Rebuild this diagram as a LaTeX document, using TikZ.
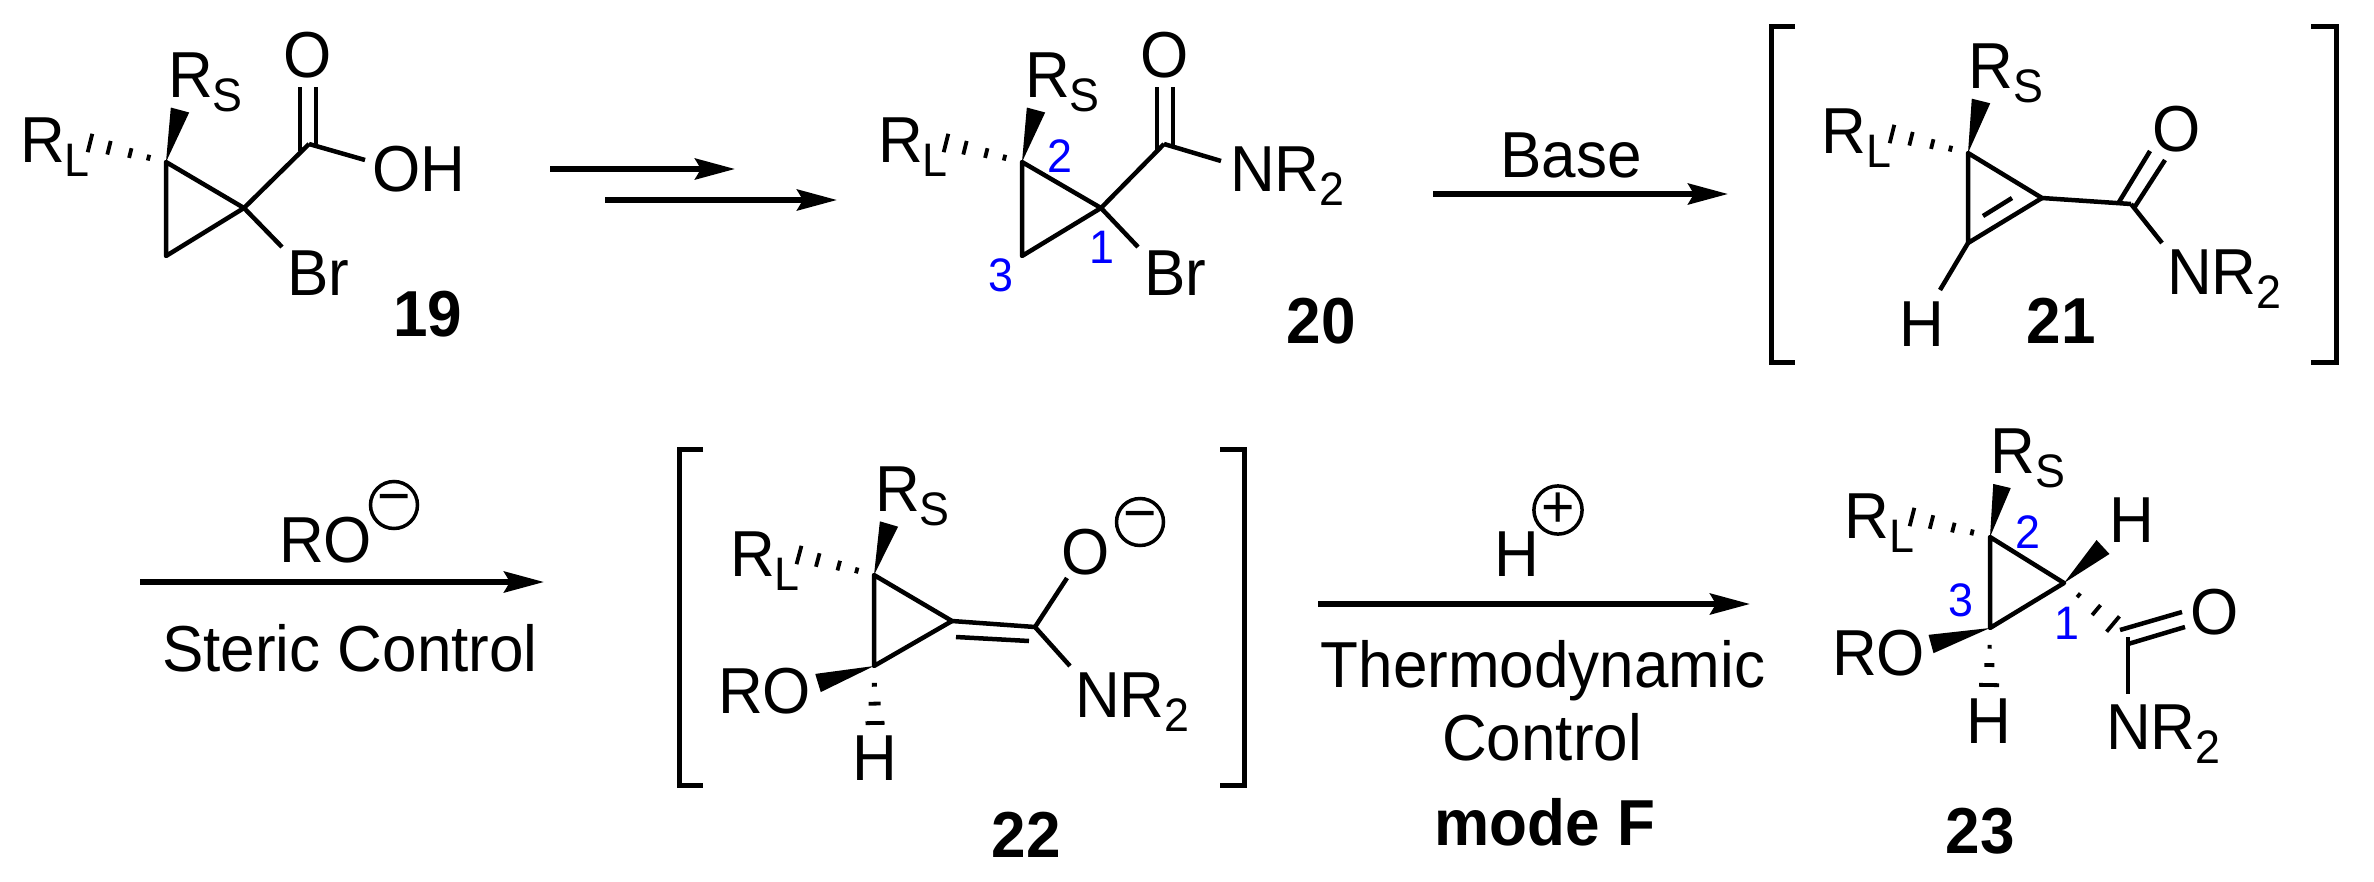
\documentclass[tikz,border=0pt]{standalone}
\usepackage{fontspec}
\usepackage{tikz}
\usetikzlibrary{arrows.meta,calc}
\setmainfont{Liberation Sans}[FakeStretch=0.954]

\newcommand{\subtxt}[1]{{\fontsize{47}{47}\selectfont\raisebox{-14pt}{#1}}}
\newcommand{\wedgebond}[3]{\fill ($(#2)!#3pt!90:(#1)$) -- (#1) -- ($(#2)!#3pt!-90:(#1)$) -- cycle;}
\newcommand{\hashbond}[3]{\foreach \tp/\hw in {#3}
	\draw[hashline] ($(#1)!\tp!(#2)!\hw pt!90:(#1)$) -- ($(#1)!\tp!(#2)!\hw pt!-90:(#1)$);}

\begin{document}
\begin{tikzpicture}[x=1pt, y=-1pt,
			every node/.style={inner sep=0pt, font=\fontsize{65}{72}\selectfont},
			atom/.style={anchor=base west},
			lab/.style={anchor=base},
			num/.style={anchor=base, text=blue, font=\fontsize{47}{50}\selectfont},
			cmpd/.style={anchor=base, font=\fontsize{65}{72}\selectfont\bfseries},
			charge/.style={circle, draw, line width=3.5pt, minimum size=47pt, font=\fontsize{60}{60}\selectfont},
			bond/.style={line width=4.5pt, line join=round},
			hashline/.style={line width=3.8pt},
			brack/.style={line width=5pt},
			rxn/.style={line width=5.3pt, -{Stealth[length=40pt,width=21pt,inset=6pt]}}]
			\useasboundingbox (0,0) rectangle (2374,881);

			% Define the nodes for compound 19
			\coordinate (A1) at (244, 208);
			\coordinate (A2) at (166, 162);
			\coordinate (A3) at (166, 256);
			\coordinate (AC) at (309, 144);
			\coordinate (ARs) at (180, 110);
			\coordinate (ARl) at (90, 143);
			\coordinate (AOa) at (300, 87);
			\coordinate (AOb) at (300, 151);
			\coordinate (AOc) at (316, 87);
			\coordinate (AOd) at (316, 148);
			\coordinate (AHo) at (365, 160);
			\coordinate (ABe) at (282, 247);
			\node[atom] (ARS) at (168, 97) {R\subtxt{S}};
			\node[atom] (ARL) at (20, 162) {R\subtxt{L}};
			\node[lab] (AO) at (308, 77) {O};
			\node[atom] (AOH) at (372, 191) {OH};
			\node[atom] (ABr) at (287, 295) {Br};
			\node[cmpd] (A19) at (428, 336) {19};

			\draw[bond] (A1) -- (A2) -- (A3) -- cycle;
			\draw[bond] (A1) -- (AC);
			\draw[bond] (AC) -- (AHo);
			\draw[bond] (AOa) -- (AOb);
			\draw[bond] (AOc) -- (AOd);
			\draw[bond] (A1) -- (ABe);
			\wedgebond{A2}{ARs}{9.5}
			\hashbond{A2}{ARl}{.23/3,.47/5,.75/7,1/9.5}

			% Define the nodes for the two arrows after 19
			\coordinate (R1a) at (550, 169);
			\coordinate (R1b) at (735, 169);
			\coordinate (R2a) at (605, 200);
			\coordinate (R2b) at (837, 200);
			\draw[rxn] (R1a) -- (R1b);
			\draw[rxn] (R2a) -- (R2b);

			% Define the nodes for compound 20
			\coordinate (B1) at (1101, 208);
			\coordinate (B2) at (1022, 162);
			\coordinate (B3) at (1022, 256);
			\coordinate (BC) at (1164, 144);
			\coordinate (BRs) at (1036, 110);
			\coordinate (BRl) at (946, 143);
			\coordinate (BOa) at (1157, 87);
			\coordinate (BOb) at (1157, 151);
			\coordinate (BOc) at (1173, 87);
			\coordinate (BOd) at (1173, 148);
			\coordinate (BNe) at (1221, 161);
			\coordinate (BBe) at (1138, 247);
			\node[atom] (BRS) at (1025, 97) {R\subtxt{S}};
			\node[atom] (BRL) at (878, 162) {R\subtxt{L}};
			\node[lab] (BO) at (1165, 77) {O};
			\node[atom] (BN) at (1230, 191) {NR\subtxt{2}};
			\node[atom] (BBr) at (1144, 295) {Br};
			\node[num] (Bn2) at (1060, 172) {2};
			\node[num] (Bn1) at (1102, 263) {1};
			\node[num] (Bn3) at (1001, 291) {3};
			\node[cmpd] (B20) at (1321, 343) {20};

			\draw[bond] (B1) -- (B2) -- (B3) -- cycle;
			\draw[bond] (B1) -- (BC);
			\draw[bond] (BC) -- (BNe);
			\draw[bond] (BOa) -- (BOb);
			\draw[bond] (BOc) -- (BOd);
			\draw[bond] (B1) -- (BBe);
			\wedgebond{B2}{BRs}{9.5}
			\hashbond{B2}{BRl}{.23/3,.47/5,.75/7,1/9.5}

			% Define the nodes for the Base arrow
			\coordinate (R3a) at (1433, 194);
			\coordinate (R3b) at (1728, 194);
			\node[lab] (TBase) at (1571, 177) {Base};
			\draw[rxn] (R3a) -- (R3b);

			% Define the nodes for compound 21
			\draw[brack] (1795, 26) -| (1771, 362) -- (1795, 362);
			\draw[brack] (2311, 26) -| (2336, 362) -- (2311, 362);
			\coordinate (C1) at (2042, 198);
			\coordinate (C2) at (1968, 153);
			\coordinate (C3) at (1968, 243);
			\coordinate (CC) at (2131, 204);
			\coordinate (CRs) at (1981, 101);
			\coordinate (CRl) at (1892, 134);
			\coordinate (CDa) at (1983, 216);
			\coordinate (CDb) at (2012, 198);
			\coordinate (COa) at (2119, 202);
			\coordinate (COb) at (2150, 151);
			\coordinate (COc) at (2134, 208);
			\coordinate (COd) at (2165, 160);
			\coordinate (CNe) at (2162, 243);
			\coordinate (CHe) at (1940, 290);
			\node[atom] (CRS) at (1968, 88) {R\subtxt{S}};
			\node[atom] (CRL) at (1821, 153) {R\subtxt{L}};
			\node[lab] (CO) at (2177, 151) {O};
			\node[atom] (CN) at (2167, 294) {NR\subtxt{2}};
			\node[lab] (CH) at (1922, 346) {H};
			\node[cmpd] (C21) at (2061, 343) {21};

			\draw[bond] (C1) -- (C2) -- (C3) -- cycle;
			\draw[bond] (C1) -- (CC);
			\draw[bond] (CC) -- (CNe);
			\draw[bond] (C3) -- (CHe);
			\draw[bond] (CDa) -- (CDb);
			\draw[bond] (COa) -- (COb);
			\draw[bond] (COc) -- (COd);
			\wedgebond{C2}{CRs}{9.5}
			\hashbond{C2}{CRl}{.23/3,.47/5,.75/7,1/9.5}

			% Define the nodes for the RO arrow
			\coordinate (R4a) at (140, 582);
			\coordinate (R4b) at (544, 582);
			\node[atom] (TRO) at (279, 562) {RO};
			\node[charge] (TRneg) at (394, 505) {−};
			\node[lab] (TSteric) at (350, 671) {Steric Control};
			\draw[rxn] (R4a) -- (R4b);

			% Define the nodes for compound 22
			\draw[brack] (703, 449) -| (679, 785) -- (703, 785);
			\draw[brack] (1220, 449) -| (1244, 785) -- (1220, 785);
			\coordinate (D1) at (952, 621);
			\coordinate (D2) at (874, 575);
			\coordinate (D3) at (874, 666);
			\coordinate (DC) at (1035, 627);
			\coordinate (DRs) at (889, 524);
			\coordinate (DRl) at (799, 555);
			\coordinate (DRo) at (818, 683);
			\coordinate (DHd) at (875, 723);
			\coordinate (DDa) at (956, 637);
			\coordinate (DDb) at (1029, 641);
			\coordinate (DOe) at (1067, 578);
			\coordinate (DNe) at (1070, 666);
			\node[atom] (DRS) at (875, 511) {R\subtxt{S}};
			\node[atom] (DRL) at (730, 576) {R\subtxt{L}};
			\node[atom] (DRO) at (718, 713) {RO};
			\node[lab] (DH) at (875, 780) {H};
			\node[lab] (DO) at (1086, 574) {O};
			\node[charge] (Dneg) at (1140, 522) {−};
			\node[atom] (DN) at (1075, 717) {NR\subtxt{2}};
			\node[cmpd] (D22) at (1026, 857) {22};

			\draw[bond] (D1) -- (D2) -- (D3) -- cycle;
			\draw[bond] (D1) -- (DC);
			\draw[bond] (DDa) -- (DDb);
			\draw[bond] (DC) -- (DOe);
			\draw[bond] (DC) -- (DNe);
			\wedgebond{D2}{DRs}{9.5}
			\wedgebond{D3}{DRo}{9.5}
			\hashbond{D2}{DRl}{.23/3,.47/5,.75/7,1/9.5}
			\hashbond{D3}{DHd}{.33/2.5,.66/6,1/9.5}

			% Define the nodes for the last arrow
			\coordinate (R5a) at (1318, 604);
			\coordinate (R5b) at (1750, 604);
			\node[lab] (TH) at (1517, 576) {H};
			\node[charge] (THpos) at (1558, 510) {+};
			\node[lab] (TThermo) at (1543, 687) {Thermodynamic};
			\node[lab] (TControl) at (1542, 760) {Control};
			\node[cmpd] (TMode) at (1545, 845) {mode F};
			\draw[rxn] (R5a) -- (R5b);

			% Define the nodes for compound 23
			\coordinate (E1) at (2064, 583);
			\coordinate (E2) at (1990, 537);
			\coordinate (E3) at (1990, 628);
			\coordinate (EC) at (2128, 637);
			\coordinate (ERs) at (2002, 486);
			\coordinate (ERl) at (1912, 517);
			\coordinate (EHu) at (2103, 547);
			\coordinate (ERo) at (1931, 644);
			\coordinate (EHd) at (1989, 685);
			\coordinate (ECh) at (2113, 624);
			\coordinate (EOa) at (2120, 630);
			\coordinate (EOb) at (2182, 612);
			\coordinate (EOc) at (2128, 644);
			\coordinate (EOd) at (2185, 627);
			\coordinate (ENe) at (2128, 694);
			\node[atom] (ERS) at (1990, 473) {R\subtxt{S}};
			\node[atom] (ERL) at (1844, 538) {R\subtxt{L}};
			\node[lab] (EH1) at (2132, 542) {H};
			\node[atom] (ERO) at (1832, 675) {RO};
			\node[lab] (EH3) at (1989, 743) {H};
			\node[lab] (EO) at (2215, 634) {O};
			\node[atom] (EN) at (2106, 749) {NR\subtxt{2}};
			\node[num] (En2) at (2028, 548) {2};
			\node[num] (En3) at (1961, 616) {3};
			\node[num] (En1) at (2067, 639) {1};
			\node[cmpd] (E23) at (1980, 853) {23};

			\draw[bond] (E1) -- (E2) -- (E3) -- cycle;
			\draw[bond] (EC) -- (ENe);
			\draw[bond] (EOa) -- (EOb);
			\draw[bond] (EOc) -- (EOd);
			\wedgebond{E2}{ERs}{9}
			\wedgebond{E1}{EHu}{9.5}
			\wedgebond{E3}{ERo}{9.5}
			\hashbond{E2}{ERl}{.23/3,.47/5,.75/7,1/9.5}
			\hashbond{E3}{EHd}{.33/2,.65/5,1/10}
			\hashbond{E1}{ECh}{.3/2.5,.66/6.5,1/10}
		\end{tikzpicture}
\end{document}
